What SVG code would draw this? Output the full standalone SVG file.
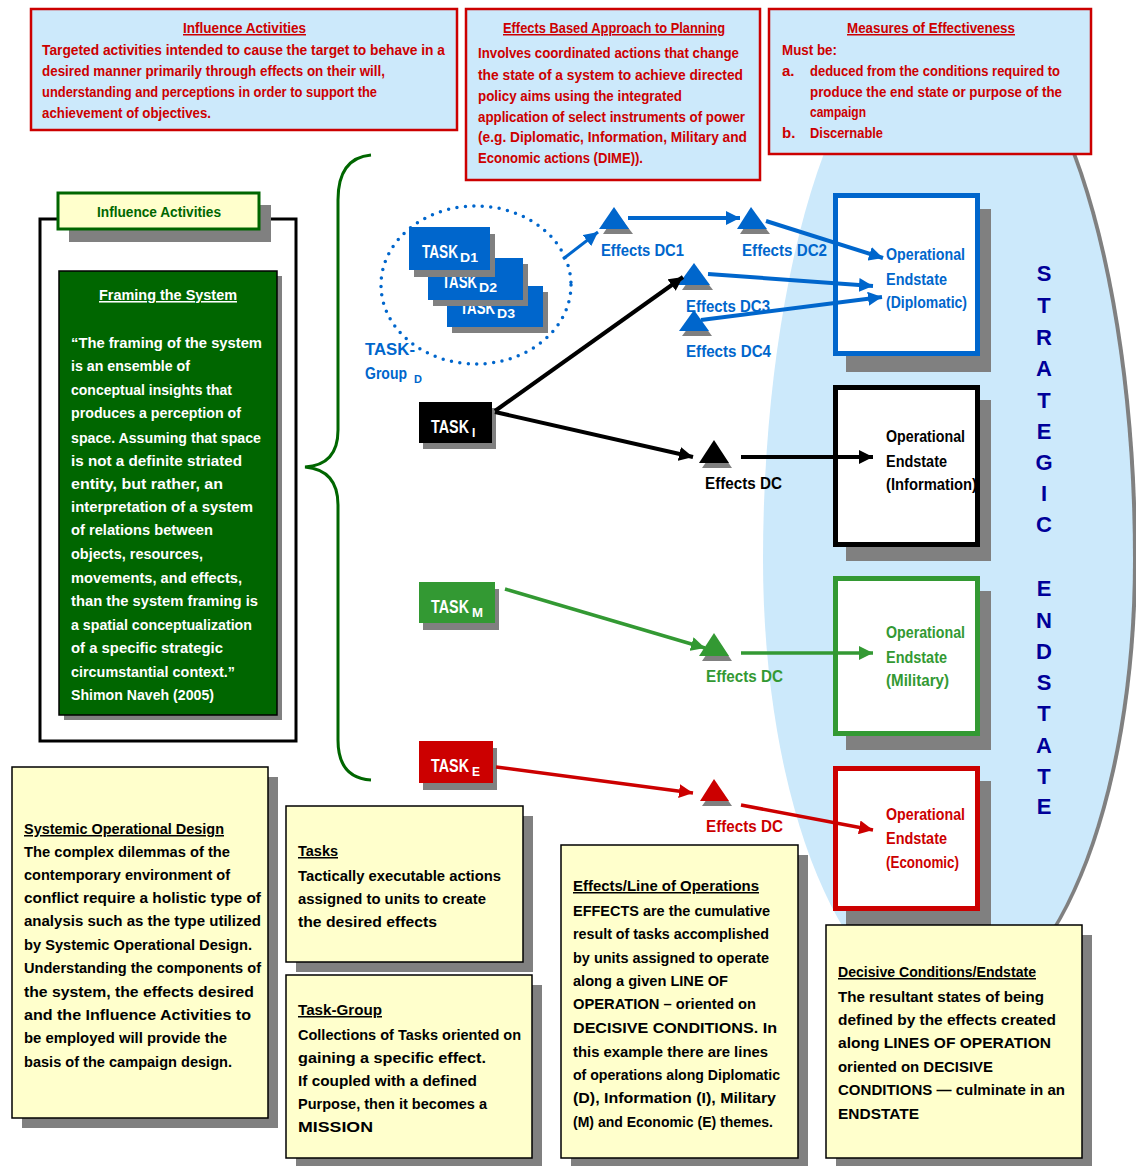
<svg xmlns="http://www.w3.org/2000/svg" width="1136" height="1166" viewBox="0 0 1136 1166">
<style>
text{font-family:"Liberation Sans",Arial,sans-serif;font-weight:bold;}
.p{font-size:15px;}
.u{text-decoration:underline;}
.red{fill:#cc0000;}
.blue{fill:#0066cc;}
.blk{fill:#000;}
.grn{fill:#339933;}
.wht{fill:#fff;}
.topbox{fill:#cce9fb;stroke:#cc0000;stroke-width:2.5;}
.ybox{fill:#ffffcc;stroke:#000;stroke-width:1.5;}
.shd{fill:#808080;}
.eb{fill:#fff;stroke-width:5;}
.lbl{font-size:17px;}
.es{font-size:16px;}
.task{font-size:18px;fill:#fff;}
.sub{font-size:12px;fill:#fff;}
.se{font-size:22px;fill:#000099;text-anchor:middle;}
</style>
<defs>
<marker id="mb" viewBox="0 0 10 10" refX="10" refY="5" markerWidth="14" markerHeight="14" markerUnits="userSpaceOnUse" orient="auto"><path d="M0,0 L10,5 L0,10 z" fill="#0066cc"/></marker>
<marker id="mk" viewBox="0 0 10 10" refX="10" refY="5" markerWidth="14" markerHeight="14" markerUnits="userSpaceOnUse" orient="auto"><path d="M0,0 L10,5 L0,10 z" fill="#000"/></marker>
<marker id="mg" viewBox="0 0 10 10" refX="10" refY="5" markerWidth="14" markerHeight="14" markerUnits="userSpaceOnUse" orient="auto"><path d="M0,0 L10,5 L0,10 z" fill="#339933"/></marker>
<marker id="mr" viewBox="0 0 10 10" refX="10" refY="5" markerWidth="14" markerHeight="14" markerUnits="userSpaceOnUse" orient="auto"><path d="M0,0 L10,5 L0,10 z" fill="#cc0000"/></marker>
</defs>
<rect width="1136" height="1166" fill="#fff"/>

<!-- Strategic endstate ellipse -->
<g id="strategic-endstate">
<path d="M 767 560 A 185 548 0 0 1 1137 560 A 185 446 0 0 1 767 560 Z" fill="#808080"/>
<path d="M 763 560 A 185 548 0 0 1 1133 560 A 185 446 0 0 1 763 560 Z" fill="#cce9fb"/>
<text class="se"><tspan x="1044" y="281">S</tspan><tspan x="1044" y="313">T</tspan><tspan x="1044" y="345">R</tspan><tspan x="1044" y="376">A</tspan><tspan x="1044" y="408">T</tspan><tspan x="1044" y="439">E</tspan><tspan x="1044" y="470">G</tspan><tspan x="1044" y="501">I</tspan><tspan x="1044" y="532">C</tspan></text>
<text class="se"><tspan x="1044" y="596">E</tspan><tspan x="1044" y="628">N</tspan><tspan x="1044" y="659">D</tspan><tspan x="1044" y="690">S</tspan><tspan x="1044" y="721">T</tspan><tspan x="1044" y="753">A</tspan><tspan x="1044" y="784">T</tspan><tspan x="1044" y="814">E</tspan></text>
</g>

<!-- Top boxes -->
<g id="influence-activities-def">
<rect class="topbox" x="31" y="9" width="426" height="121"/>
<text class="p red u" x="183" y="33" textLength="123" lengthAdjust="spacingAndGlyphs">Influence Activities</text>
<text class="p red" x="42" y="55" textLength="403" lengthAdjust="spacingAndGlyphs">Targeted  activities intended to cause the target to behave in a</text>
<text class="p red" x="42" y="76" textLength="343" lengthAdjust="spacingAndGlyphs">desired manner primarily through effects on their will,</text>
<text class="p red" x="42" y="97" textLength="335" lengthAdjust="spacingAndGlyphs">understanding and perceptions in order to support the</text>
<text class="p red" x="42" y="118" textLength="169" lengthAdjust="spacingAndGlyphs">achievement of objectives.</text>
</g>
<g id="effects-based-approach">
<rect class="topbox" x="466" y="9" width="294" height="171"/>
<text class="p red u" x="503" y="33" textLength="222" lengthAdjust="spacingAndGlyphs">Effects Based Approach to Planning</text>
<text class="p red" x="478" y="58" textLength="261" lengthAdjust="spacingAndGlyphs">Involves coordinated  actions that change</text>
<text class="p red" x="478" y="80" textLength="265" lengthAdjust="spacingAndGlyphs">the state of a system to achieve directed</text>
<text class="p red" x="478" y="101" textLength="204" lengthAdjust="spacingAndGlyphs">policy  aims using the integrated</text>
<text class="p red" x="478" y="122" textLength="267" lengthAdjust="spacingAndGlyphs">application of select instruments  of power</text>
<text class="p red" x="478" y="142" textLength="269" lengthAdjust="spacingAndGlyphs">(e.g. Diplomatic, Information, Military and</text>
<text class="p red" x="478" y="163" textLength="165" lengthAdjust="spacingAndGlyphs">Economic actions (DIME)).</text>
</g>
<g id="measures-of-effectiveness">
<rect class="topbox" x="769" y="9" width="322" height="145"/>
<text class="p red u" x="847" y="33" textLength="168" lengthAdjust="spacingAndGlyphs">Measures of Effectiveness</text>
<text class="p red" x="782" y="55" textLength="55" lengthAdjust="spacingAndGlyphs">Must be:</text>
<text class="p red" x="782" y="76">a.</text>
<text class="p red" x="810" y="76" textLength="250" lengthAdjust="spacingAndGlyphs">deduced from the conditions required to</text>
<text class="p red" x="810" y="97" textLength="252" lengthAdjust="spacingAndGlyphs">produce the end state or purpose of the</text>
<text class="p red" x="810" y="117" textLength="56" lengthAdjust="spacingAndGlyphs">campaign</text>
<text class="p red" x="782" y="138">b.</text>
<text class="p red" x="810" y="138" textLength="73" lengthAdjust="spacingAndGlyphs">Discernable</text>
</g>

<!-- Left framing panel -->
<g id="influence-activities-panel">
<rect x="40" y="219" width="256" height="522" fill="#fff" stroke="#000" stroke-width="3"/>
<rect class="shd" x="69" y="205" width="202" height="37"/>
<rect x="58" y="193" width="201" height="36" fill="#ffffcc" stroke="#006600" stroke-width="3"/>
<text x="97" y="217" font-size="14" fill="#006600" textLength="124" lengthAdjust="spacingAndGlyphs">Influence Activities</text>
</g>
<g id="framing-the-system">
<rect class="shd" x="64" y="276" width="218" height="444"/>
<rect x="59" y="271" width="218" height="444" fill="#006600" stroke="#000" stroke-width="1.5"/>
<text class="wht u" font-size="15.5" x="99" y="300" textLength="138" lengthAdjust="spacingAndGlyphs">Framing the System</text>
<g class="wht" font-size="15.5">
<text x="71" y="348" textLength="191" lengthAdjust="spacingAndGlyphs">“The framing of the system</text>
<text x="71" y="371" textLength="119" lengthAdjust="spacingAndGlyphs">is an ensemble of</text>
<text x="71" y="395" textLength="161" lengthAdjust="spacingAndGlyphs">conceptual insights that</text>
<text x="71" y="418" textLength="170" lengthAdjust="spacingAndGlyphs">produces a perception of</text>
<text x="71" y="443" textLength="190" lengthAdjust="spacingAndGlyphs">space. Assuming that space</text>
<text x="71" y="466" textLength="171" lengthAdjust="spacingAndGlyphs">is not a definite striated</text>
<text x="71" y="489" textLength="152" lengthAdjust="spacingAndGlyphs">entity, but rather,  an</text>
<text x="71" y="512" textLength="182" lengthAdjust="spacingAndGlyphs">interpretation of a system</text>
<text x="71" y="535" textLength="142" lengthAdjust="spacingAndGlyphs">of relations between</text>
<text x="71" y="559" textLength="132" lengthAdjust="spacingAndGlyphs">objects, resources,</text>
<text x="71" y="583" textLength="171" lengthAdjust="spacingAndGlyphs">movements, and effects,</text>
<text x="71" y="606" textLength="187" lengthAdjust="spacingAndGlyphs">than the system framing is</text>
<text x="71" y="630" textLength="181" lengthAdjust="spacingAndGlyphs">a spatial conceptualization</text>
<text x="71" y="653" textLength="152" lengthAdjust="spacingAndGlyphs">of a specific strategic</text>
<text x="71" y="677" textLength="164" lengthAdjust="spacingAndGlyphs">circumstantial context.”</text>
<text x="71" y="700" font-weight="normal" textLength="143" lengthAdjust="spacingAndGlyphs">Shimon Naveh (2005)</text>
</g>
</g>
<g id="bracket">
<path d="M 371 155 Q 338 158 338 200 L 338 430 Q 338 465 305 467 Q 338 470 338 505 L 338 740 Q 338 778 371 780" fill="none" stroke="#006600" stroke-width="3"/>
</g>

<!-- Task group D -->
<g id="task-group-d">
<ellipse cx="476" cy="285" rx="95" ry="79" fill="none" stroke="#0066cc" stroke-width="3.5" stroke-dasharray="0 8.5" stroke-linecap="round"/>
<text class="blue" font-size="17" x="365" y="355" textLength="50" lengthAdjust="spacingAndGlyphs">TASK-</text>
<text class="blue" font-size="17" x="365" y="379" textLength="42" lengthAdjust="spacingAndGlyphs">Group</text>
<text class="blue" font-size="11" x="414" y="383">D</text>
</g>
<g id="task-d3">
<rect class="shd" x="452" y="292" width="96" height="41"/>
<rect x="447" y="286" width="96" height="41" fill="#0066cc"/>
<text class="task" y="314"><tspan x="460" textLength="35" lengthAdjust="spacingAndGlyphs">TASK</tspan><tspan class="sub" x="497" dy="4" textLength="18" lengthAdjust="spacingAndGlyphs">D3</tspan></text>
</g>
<g id="task-d2">
<rect class="shd" x="433" y="264" width="95" height="42"/>
<rect x="428" y="258" width="95" height="42" fill="#0066cc"/>
<text class="task" y="288"><tspan x="442" textLength="35" lengthAdjust="spacingAndGlyphs">TASK</tspan><tspan class="sub" x="479" dy="4" textLength="18" lengthAdjust="spacingAndGlyphs">D2</tspan></text>
</g>
<g id="task-d1">
<rect class="shd" x="414" y="234" width="81" height="43"/>
<rect x="409" y="227" width="81" height="43" fill="#0066cc"/>
<text class="task" y="258"><tspan x="422" textLength="36" lengthAdjust="spacingAndGlyphs">TASK</tspan><tspan class="sub" x="460" dy="4" textLength="18" lengthAdjust="spacingAndGlyphs">D1</tspan></text>
</g>
<g id="task-i">
<rect class="shd" x="423" y="408" width="73" height="41"/>
<rect x="419" y="402" width="73" height="41" fill="#000"/>
<text class="task" y="433"><tspan x="431" textLength="38" lengthAdjust="spacingAndGlyphs">TASK</tspan><tspan class="sub" x="472" dy="4">I</tspan></text>
</g>
<g id="task-m">
<rect class="shd" x="423" y="589" width="76" height="41"/>
<rect x="419" y="582" width="76" height="41" fill="#339933"/>
<text class="task" y="613"><tspan x="431" textLength="38" lengthAdjust="spacingAndGlyphs">TASK</tspan><tspan class="sub" x="472" dy="4" textLength="11" lengthAdjust="spacingAndGlyphs">M</tspan></text>
</g>
<g id="task-e">
<rect class="shd" x="423" y="748" width="74" height="42"/>
<rect x="419" y="741" width="74" height="42" fill="#cc0000"/>
<text class="task" y="772"><tspan x="431" textLength="38" lengthAdjust="spacingAndGlyphs">TASK</tspan><tspan class="sub" x="472" dy="4">E</tspan></text>
</g>

<!-- Effects decisive conditions -->
<g id="effects-dc1">
<polygon class="shd" points="617,213 603,234 633,234"/>
<polygon points="614,207 599,229 629,229" fill="#0066cc"/>
<text class="lbl blue" x="601" y="256" textLength="83" lengthAdjust="spacingAndGlyphs">Effects DC1</text>
</g>
<g id="effects-dc2">
<polygon class="shd" points="754,213 740,234 770,234"/>
<polygon points="751,207 737,229 767,229" fill="#0066cc"/>
<text class="lbl blue" x="742" y="256" textLength="85" lengthAdjust="spacingAndGlyphs">Effects DC2</text>
</g>
<g id="effects-dc3">
<polygon class="shd" points="697,269 682,290 713,290"/>
<polygon points="694,263 678,285 710,285" fill="#0066cc"/>
<text class="lbl blue" x="686" y="312" textLength="84" lengthAdjust="spacingAndGlyphs">Effects DC3</text>
</g>
<g id="effects-dc4">
<polygon class="shd" points="697,316 682,336 712,336"/>
<polygon points="694,310 679,331 709,331" fill="#0066cc"/>
<text class="lbl blue" x="686" y="357" textLength="85" lengthAdjust="spacingAndGlyphs">Effects DC4</text>
</g>
<g id="effects-dc-i">
<polygon class="shd" points="717,446 702,468 732,468"/>
<polygon points="714,440 699,463 729,463" fill="#000"/>
<text class="lbl blk" x="705" y="489" textLength="77" lengthAdjust="spacingAndGlyphs">Effects DC</text>
</g>
<g id="effects-dc-m">
<polygon class="shd" points="717,639 702,661 732,661"/>
<polygon points="714,633 699,656 729,656" fill="#339933"/>
<text class="lbl grn" x="706" y="682" textLength="77" lengthAdjust="spacingAndGlyphs">Effects DC</text>
</g>
<g id="effects-dc-e">
<polygon class="shd" points="717,785 702,806 732,806"/>
<polygon points="714,779 700,801 729,801" fill="#cc0000"/>
<text class="lbl red" x="706" y="832" textLength="77" lengthAdjust="spacingAndGlyphs">Effects DC</text>
</g>

<!-- Operational endstates -->
<g id="endstate-diplomatic">
<rect class="shd" x="846" y="209" width="145" height="163"/>
<rect class="eb" x="835.5" y="195.5" width="142" height="158" stroke="#0066cc"/>
<text class="es blue" x="886" y="260" textLength="79" lengthAdjust="spacingAndGlyphs">Operational</text>
<text class="es blue" x="886" y="285" textLength="61" lengthAdjust="spacingAndGlyphs">Endstate</text>
<text class="es blue" x="886" y="308" textLength="81" lengthAdjust="spacingAndGlyphs">(Diplomatic)</text>
</g>
<g id="endstate-information">
<rect class="shd" x="846" y="400" width="145" height="161"/>
<rect class="eb" x="835.5" y="387.5" width="142" height="157" stroke="#000"/>
<text class="es blk" x="886" y="442" textLength="79" lengthAdjust="spacingAndGlyphs">Operational</text>
<text class="es blk" x="886" y="467" textLength="61" lengthAdjust="spacingAndGlyphs">Endstate</text>
<text class="es blk" x="886" y="490" textLength="91" lengthAdjust="spacingAndGlyphs">(Information)</text>
</g>
<g id="endstate-military">
<rect class="shd" x="846" y="591" width="145" height="159"/>
<rect class="eb" x="835.5" y="578.5" width="142" height="155" stroke="#339933"/>
<text class="es grn" x="886" y="638" textLength="79" lengthAdjust="spacingAndGlyphs">Operational</text>
<text class="es grn" x="886" y="663" textLength="61" lengthAdjust="spacingAndGlyphs">Endstate</text>
<text class="es grn" x="886" y="686" textLength="63" lengthAdjust="spacingAndGlyphs">(Military)</text>
</g>
<g id="endstate-economic">
<rect class="shd" x="846" y="781" width="145" height="144"/>
<rect class="eb" x="835.5" y="768.5" width="142" height="140" stroke="#cc0000"/>
<text class="es red" x="886" y="820" textLength="79" lengthAdjust="spacingAndGlyphs">Operational</text>
<text class="es red" x="886" y="844" textLength="61" lengthAdjust="spacingAndGlyphs">Endstate</text>
<text class="es red" x="886" y="868" textLength="73" lengthAdjust="spacingAndGlyphs">(Economic)</text>
</g>

<!-- Connectors -->
<g id="connectors" fill="none">
<line x1="563" y1="259" x2="598" y2="232" stroke="#0066cc" stroke-width="3" marker-end="url(#mb)"/>
<line x1="628" y1="218" x2="740" y2="218" stroke="#0066cc" stroke-width="4" marker-end="url(#mb)"/>
<line x1="766" y1="221" x2="883" y2="258" stroke="#0066cc" stroke-width="4" marker-end="url(#mb)"/>
<line x1="708" y1="274" x2="873" y2="286" stroke="#0066cc" stroke-width="4" marker-end="url(#mb)"/>
<line x1="701" y1="320" x2="882" y2="297" stroke="#0066cc" stroke-width="4" marker-end="url(#mb)"/>
<line x1="495" y1="411" x2="683" y2="277" stroke="#000" stroke-width="4" marker-end="url(#mk)"/>
<line x1="495" y1="412" x2="693" y2="457" stroke="#000" stroke-width="4" marker-end="url(#mk)"/>
<line x1="741" y1="457" x2="873" y2="457" stroke="#000" stroke-width="4" marker-end="url(#mk)"/>
<line x1="505" y1="589" x2="705" y2="648" stroke="#339933" stroke-width="3.5" marker-end="url(#mg)"/>
<line x1="741" y1="653" x2="873" y2="653" stroke="#339933" stroke-width="3.5" marker-end="url(#mg)"/>
<line x1="496" y1="767" x2="693" y2="793" stroke="#cc0000" stroke-width="3.5" marker-end="url(#mr)"/>
<line x1="741" y1="805" x2="873" y2="830" stroke="#cc0000" stroke-width="3.5" marker-end="url(#mr)"/>
</g>

<!-- Bottom explanation boxes -->
<g id="systemic-operational-design">
<rect class="shd" x="22" y="777" width="256" height="351"/>
<rect class="ybox" x="12" y="767" width="256" height="351"/>
<g class="p blk">
<text class="u" x="24" y="834" textLength="200" lengthAdjust="spacingAndGlyphs">Systemic Operational Design</text>
<text x="24" y="857" textLength="206" lengthAdjust="spacingAndGlyphs">The complex dilemmas of the</text>
<text x="24" y="880" textLength="206" lengthAdjust="spacingAndGlyphs">contemporary environment of</text>
<text x="24" y="903" textLength="237" lengthAdjust="spacingAndGlyphs">conflict require a holistic  type of</text>
<text x="24" y="926" textLength="237" lengthAdjust="spacingAndGlyphs">analysis such as the type utilized</text>
<text x="24" y="950" textLength="228" lengthAdjust="spacingAndGlyphs">by Systemic Operational Design.</text>
<text x="24" y="973" textLength="237" lengthAdjust="spacingAndGlyphs">Understanding the  components of</text>
<text x="24" y="997" textLength="230" lengthAdjust="spacingAndGlyphs">the system,  the effects desired</text>
<text x="24" y="1020" textLength="227" lengthAdjust="spacingAndGlyphs">and the  Influence Activities  to</text>
<text x="24" y="1043" textLength="203" lengthAdjust="spacingAndGlyphs">be employed will provide the</text>
<text x="24" y="1067" textLength="208" lengthAdjust="spacingAndGlyphs">basis of the  campaign design.</text>
</g>
</g>
<g id="tasks-def">
<rect class="shd" x="296" y="816" width="237" height="156"/>
<rect class="ybox" x="286" y="806" width="237" height="156"/>
<g class="p blk">
<text class="u" x="298" y="856" textLength="40" lengthAdjust="spacingAndGlyphs">Tasks</text>
<text x="298" y="881" textLength="203" lengthAdjust="spacingAndGlyphs">Tactically executable actions</text>
<text x="298" y="904" textLength="188" lengthAdjust="spacingAndGlyphs">assigned to units to create</text>
<text x="298" y="927" textLength="139" lengthAdjust="spacingAndGlyphs">the desired effects</text>
</g>
</g>
<g id="task-group-def">
<rect class="shd" x="296" y="985" width="246" height="183"/>
<rect class="ybox" x="286" y="975" width="246" height="183"/>
<g class="p blk">
<text class="u" x="298" y="1015" textLength="84" lengthAdjust="spacingAndGlyphs">Task-Group</text>
<text x="298" y="1040" textLength="223" lengthAdjust="spacingAndGlyphs">Collections of Tasks oriented on</text>
<text x="298" y="1063" textLength="188" lengthAdjust="spacingAndGlyphs">gaining a specific effect.</text>
<text x="298" y="1086" textLength="179" lengthAdjust="spacingAndGlyphs">If coupled with a defined</text>
<text x="298" y="1109" textLength="189" lengthAdjust="spacingAndGlyphs">Purpose, then  it becomes a</text>
<text x="298" y="1132" textLength="75" lengthAdjust="spacingAndGlyphs">MISSION</text>
</g>
</g>
<g id="effects-line-of-operations">
<rect class="shd" x="571" y="855" width="237" height="313"/>
<rect class="ybox" x="561" y="845" width="237" height="313"/>
<g class="p blk">
<text class="u" x="573" y="891" textLength="186" lengthAdjust="spacingAndGlyphs">Effects/Line of Operations</text>
<text x="573" y="916" textLength="197" lengthAdjust="spacingAndGlyphs">EFFECTS are the  cumulative</text>
<text x="573" y="939" textLength="196" lengthAdjust="spacingAndGlyphs">result of  tasks accomplished</text>
<text x="573" y="963" textLength="196" lengthAdjust="spacingAndGlyphs">by units assigned to operate</text>
<text x="573" y="986" textLength="155" lengthAdjust="spacingAndGlyphs">along a given LINE OF</text>
<text x="573" y="1009" textLength="183" lengthAdjust="spacingAndGlyphs">OPERATION – oriented on</text>
<text x="573" y="1033" textLength="204" lengthAdjust="spacingAndGlyphs">DECISIVE CONDITIONS. In</text>
<text x="573" y="1057" textLength="195" lengthAdjust="spacingAndGlyphs">this example there are lines</text>
<text x="573" y="1080" textLength="207" lengthAdjust="spacingAndGlyphs">of operations along Diplomatic</text>
<text x="573" y="1103" textLength="203" lengthAdjust="spacingAndGlyphs">(D), Information (I),  Military</text>
<text x="573" y="1127" textLength="200" lengthAdjust="spacingAndGlyphs">(M) and Economic (E) themes.</text>
</g>
</g>
<g id="decisive-conditions-endstate">
<rect class="shd" x="836" y="935" width="256" height="233"/>
<rect class="ybox" x="826" y="925" width="256" height="233"/>
<g class="p blk">
<text class="u" x="838" y="977" textLength="198" lengthAdjust="spacingAndGlyphs">Decisive Conditions/Endstate</text>
<text x="838" y="1002" textLength="206" lengthAdjust="spacingAndGlyphs">The resultant states  of being</text>
<text x="838" y="1025" textLength="218" lengthAdjust="spacingAndGlyphs">defined by the effects created</text>
<text x="838" y="1048" textLength="213" lengthAdjust="spacingAndGlyphs">along  LINES OF  OPERATION</text>
<text x="838" y="1072" textLength="155" lengthAdjust="spacingAndGlyphs">oriented on DECISIVE</text>
<text x="838" y="1095" textLength="227" lengthAdjust="spacingAndGlyphs">CONDITIONS — culminate in an</text>
<text x="838" y="1119" textLength="81" lengthAdjust="spacingAndGlyphs">ENDSTATE</text>
</g>
</g>
</svg>
